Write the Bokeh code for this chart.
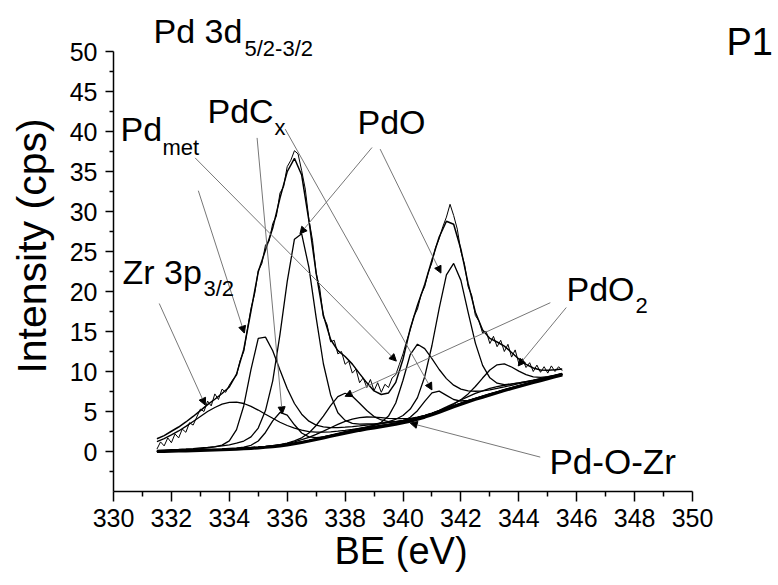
import numpy as np
from bokeh.plotting import figure
from bokeh.models import Range1d, FixedTicker, Label, Arrow, NormalHead, ColumnDataSource, Title
from bokeh.embed import file_html
from bokeh.resources import INLINE

# ---------------- data ----------------
be = [331.5, 331.75, 332.0, 332.25, 332.5, 332.75, 333.0, 333.25, 333.5, 333.75,
      334.0, 334.25, 334.5, 334.75, 335.0, 335.25, 335.5, 335.75, 336.0, 336.25,
      336.5, 336.75, 337.0, 337.25, 337.5, 337.75, 338.0, 338.25, 338.5, 338.75,
      339.0, 339.25, 339.5, 339.75, 340.0, 340.25, 340.5, 340.75, 341.0, 341.25,
      341.5, 341.75, 342.0, 342.25, 342.5, 342.75, 343.0, 343.25, 343.5, 343.75,
      344.0, 344.25, 344.5, 344.75, 345.0, 345.25, 345.5]

background = [0.00, 0.02, 0.04, 0.06, 0.08, 0.10, 0.13, 0.16, 0.19, 0.22,
              0.26, 0.30, 0.35, 0.40, 0.46, 0.53, 0.61, 0.71, 0.83, 0.97,
              1.13, 1.31, 1.50, 1.70, 1.90, 2.10, 2.30, 2.48, 2.65, 2.81,
              2.96, 3.11, 3.26, 3.42, 3.60, 3.80, 4.03, 4.30, 4.60, 4.92,
              5.25, 5.58, 5.90, 6.22, 6.52, 6.80, 7.08, 7.35, 7.62, 7.88,
              8.13, 8.38, 8.62, 8.86, 9.10, 9.34, 9.58]

# component intensities above the background
zr_3p32 = [1.24, 1.59, 2.04, 2.51, 3.06, 3.66, 4.25, 4.84, 5.31, 5.71,
           5.88, 5.86, 5.65, 5.24, 4.72, 4.13, 3.54, 2.95, 2.42, 1.95,
           1.53, 1.18, 0.93, 0.72, 0.56, 0.44, 0.35, 0.29, 0.25, 0.21,
           0.19, 0.17, 0.15, 0.14, 0.13, 0.12, 0.12, 0.11, 0.10, 0.10,
           0.09, 0.09, 0.08, 0.08, 0.07, 0.07, 0.06, 0.06, 0.06, 0.05,
           0.05, 0.05, 0.05, 0.04, 0.04, 0.04, 0.04]

pd_met_52 = [0.08, 0.09, 0.11, 0.13, 0.16, 0.18, 0.23, 0.30, 0.39, 0.58,
             1.07, 2.43, 5.37, 9.87, 13.68, 13.77, 11.98, 9.49, 7.05, 5.03,
             3.53, 2.48, 1.80, 1.38, 1.09, 0.89, 0.75, 0.64, 0.55, 0.48,
             0.43, 0.38, 0.34, 0.31, 0.28, 0.25, 0.23, 0.21, 0.19, 0.18,
             0.16, 0.15, 0.14, 0.13, 0.12, 0.12, 0.11, 0.10, 0.10, 0.09,
             0.09, 0.08, 0.08, 0.07, 0.07, 0.07, 0.06]

pdcx_52 = [0.02, 0.02, 0.03, 0.03, 0.03, 0.04, 0.05, 0.05, 0.06, 0.07,
           0.09, 0.12, 0.19, 0.38, 0.85, 1.85, 3.22, 4.17, 3.72, 2.37,
           1.18, 0.52, 0.24, 0.14, 0.10, 0.08, 0.06, 0.06, 0.05, 0.04,
           0.03, 0.03, 0.03, 0.03, 0.03, 0.02, 0.02, 0.02, 0.02, 0.02,
           0.02, 0.02, 0.02, 0.02, 0.02, 0.02, 0.02, 0.02, 0.02, 0.02,
           0.02, 0.02, 0.02, 0.02, 0.02, 0.02, 0.02]

pdo_52 = [0.14, 0.16, 0.18, 0.20, 0.23, 0.27, 0.31, 0.35, 0.41, 0.49,
          0.58, 0.74, 0.96, 1.43, 2.47, 4.59, 8.22, 13.91, 20.40, 25.57,
          26.08, 21.70, 15.24, 9.27, 5.17, 2.75, 1.59, 1.03, 0.76, 0.63,
          0.50, 0.43, 0.37, 0.32, 0.28, 0.24, 0.21, 0.18, 0.16, 0.15,
          0.13, 0.12, 0.11, 0.10, 0.09, 0.09, 0.08, 0.08, 0.07, 0.07,
          0.06, 0.06, 0.06, 0.05, 0.05, 0.05, 0.05]

pdo2_52 = [0.02, 0.02, 0.03, 0.03, 0.03, 0.03, 0.04, 0.04, 0.04, 0.05,
           0.05, 0.06, 0.07, 0.08, 0.09, 0.11, 0.13, 0.16, 0.22, 0.35,
           0.58, 1.01, 1.75, 2.72, 3.83, 4.75, 4.98, 4.42, 3.39, 2.31,
           1.40, 0.83, 0.48, 0.29, 0.20, 0.15, 0.12, 0.10, 0.09, 0.08,
           0.07, 0.07, 0.06, 0.06, 0.05, 0.05, 0.04, 0.04, 0.04, 0.03,
           0.03, 0.03, 0.03, 0.02, 0.02, 0.02, 0.02]

pd_met_32 = [0.02, 0.02, 0.02, 0.02, 0.02, 0.02, 0.02, 0.02, 0.03, 0.03,
             0.03, 0.03, 0.03, 0.04, 0.04, 0.04, 0.04, 0.05, 0.05, 0.05,
             0.06, 0.06, 0.06, 0.07, 0.08, 0.10, 0.11, 0.14, 0.18, 0.24,
             0.32, 0.54, 1.17, 2.64, 5.31, 8.32, 9.38, 8.56, 7.00, 5.33,
             3.86, 2.71, 1.90, 1.36, 1.01, 0.79, 0.63, 0.53, 0.45, 0.39,
             0.34, 0.30, 0.27, 0.24, 0.21, 0.19, 0.17]

pdcx_32 = [0.01, 0.01, 0.01, 0.01, 0.01, 0.01, 0.01, 0.01, 0.01, 0.01,
           0.01, 0.01, 0.01, 0.01, 0.01, 0.01, 0.01, 0.01, 0.01, 0.01,
           0.02, 0.02, 0.02, 0.02, 0.02, 0.02, 0.03, 0.03, 0.03, 0.04,
           0.04, 0.05, 0.08, 0.11, 0.21, 0.48, 1.07, 1.96, 2.72, 2.62,
           1.77, 0.92, 0.41, 0.18, 0.10, 0.07, 0.06, 0.05, 0.04, 0.04,
           0.03, 0.03, 0.03, 0.02, 0.02, 0.02, 0.02]

pdo_32 = [0.03, 0.03, 0.03, 0.03, 0.03, 0.03, 0.03, 0.04, 0.04, 0.04,
          0.04, 0.05, 0.05, 0.05, 0.05, 0.06, 0.06, 0.07, 0.07, 0.08,
          0.08, 0.09, 0.10, 0.12, 0.14, 0.16, 0.18, 0.20, 0.23, 0.27,
          0.32, 0.40, 0.48, 0.61, 0.90, 1.50, 2.70, 5.05, 8.65, 12.96,
          16.84, 17.93, 15.49, 11.16, 7.03, 3.96, 2.13, 1.19, 0.75, 0.54,
          0.45, 0.36, 0.30, 0.26, 0.22, 0.20, 0.17]

pdo2_32 = [0.01, 0.01, 0.01, 0.01, 0.01, 0.01, 0.01, 0.01, 0.01, 0.01,
           0.02, 0.02, 0.02, 0.02, 0.02, 0.02, 0.02, 0.02, 0.02, 0.02,
           0.02, 0.02, 0.02, 0.03, 0.03, 0.03, 0.03, 0.03, 0.03, 0.03,
           0.03, 0.04, 0.04, 0.05, 0.05, 0.06, 0.07, 0.09, 0.11, 0.14,
           0.20, 0.33, 0.58, 0.98, 1.61, 2.38, 3.10, 3.49, 3.33, 2.68,
           1.91, 1.23, 0.71, 0.40, 0.25, 0.16, 0.11]

pdozr_52 = [0.01, 0.01, 0.02, 0.02, 0.02, 0.02, 0.02, 0.02, 0.03, 0.03,
            0.03, 0.04, 0.04, 0.05, 0.06, 0.07, 0.09, 0.12, 0.17, 0.24,
            0.34, 0.46, 0.64, 0.85, 1.07, 1.28, 1.47, 1.58, 1.59, 1.50,
            1.33, 1.12, 0.89, 0.68, 0.50, 0.35, 0.26, 0.18, 0.13, 0.09,
            0.07, 0.06, 0.05, 0.05, 0.04, 0.04, 0.03, 0.03, 0.03, 0.03,
            0.02, 0.02, 0.02, 0.02, 0.02, 0.02, 0.02]

pdozr_32 = [0.01, 0.01, 0.01, 0.01, 0.01, 0.01, 0.01, 0.01, 0.01, 0.01,
            0.01, 0.01, 0.01, 0.01, 0.01, 0.01, 0.01, 0.01, 0.01, 0.01,
            0.01, 0.01, 0.01, 0.01, 0.01, 0.01, 0.02, 0.02, 0.02, 0.02,
            0.02, 0.03, 0.03, 0.04, 0.04, 0.06, 0.08, 0.12, 0.17, 0.23,
            0.32, 0.42, 0.54, 0.64, 0.74, 0.79, 0.80, 0.75, 0.66, 0.56,
            0.44, 0.34, 0.25, 0.18, 0.13, 0.09, 0.06]

# measured spectrum
be_raw = [331.5, 331.625, 331.75, 331.875, 332.0, 332.125, 332.25, 332.375,
          332.5, 332.625, 332.75, 332.875, 333.0, 333.125, 333.25, 333.375,
          333.5, 333.625, 333.75, 333.875, 334.0, 334.125, 334.25, 334.375,
          334.5, 334.625, 334.75, 334.875, 335.0, 335.125, 335.25, 335.375,
          335.5, 335.625, 335.75, 335.875, 336.0, 336.125, 336.25, 336.375,
          336.5, 336.625, 336.75, 336.875, 337.0, 337.125, 337.25, 337.375,
          337.5, 337.625, 337.75, 337.875, 338.0, 338.125, 338.25, 338.375,
          338.5, 338.625, 338.75, 338.875, 339.0, 339.125, 339.25, 339.375,
          339.5, 339.625, 339.75, 339.875, 340.0, 340.125, 340.25, 340.375,
          340.5, 340.625, 340.75, 340.875, 341.0, 341.125, 341.25, 341.375,
          341.5, 341.625, 341.75, 341.875, 342.0, 342.125, 342.25, 342.375,
          342.5, 342.625, 342.75, 342.875, 343.0, 343.125, 343.25, 343.375,
          343.5, 343.625, 343.75, 343.875, 344.0, 344.125, 344.25, 344.375,
          344.5, 344.625, 344.75, 344.875, 345.0, 345.125, 345.25, 345.375,
          345.5]
cps_raw = [0.3, 1.2, 0.7, 1.7, 1.1, 2.2, 1.7, 2.8,
           2.4, 3.6, 3.3, 4.3, 5.3, 5.0, 6.3, 5.7,
           7.2, 6.5, 7.8, 7.4, 8.3, 9.0, 9.5, 11.4,
           12.5, 15.3, 17.9, 19.7, 22.6, 23.5, 25.8, 26.3,
           28.5, 29.4, 32.3, 33.1, 35.6, 36.4, 37.6, 37.2,
           35.1, 32.8, 29.0, 26.4, 22.3, 20.4, 16.8, 15.9,
           13.7, 13.9, 12.2, 12.5, 10.9, 11.3, 9.8, 10.3,
           8.6, 9.2, 8.0, 9.0, 7.6, 8.6, 7.4, 8.4,
           8.0, 9.2, 9.6, 10.9, 12.2, 13.8, 15.2, 16.9,
           17.8, 19.6, 20.6, 22.4, 23.6, 25.5, 26.6, 28.1,
           29.3, 30.9, 29.5, 27.8, 25.0, 23.4, 20.6, 19.5,
           17.0, 16.3, 14.8, 15.0, 13.5, 14.4, 13.1, 13.9,
           12.5, 13.4, 11.8, 12.7, 11.0, 11.6, 10.5, 11.1,
           10.0, 10.8, 9.9, 10.6, 9.8, 10.7, 10.0, 10.6,
           10.1]

x_ticks = [330, 332, 334, 336, 338, 340, 342, 344, 346, 348, 350]
x_minor = [331, 333, 335, 337, 339, 341, 343, 345, 347, 349]
y_ticks = [0, 5, 10, 15, 20, 25, 30, 35, 40, 45, 50]
y_minor = [-2.5, 2.5, 7.5, 12.5, 17.5, 22.5, 27.5, 32.5, 37.5, 42.5, 47.5]

# leader lines (label -> feature), data coordinates
lead_x0 = [332.82, 332.93, 334.96, 335.93, 338.93, 339.21, 331.58, 345.09, 345.64, 344.74]
lead_y0 = [36.7, 32.6, 39.2, 40.3, 38.0, 37.8, 18.5, 18.6, 18.0, -0.7]
lead_x1 = [339.77, 334.52, 335.83, 341.0, 336.44, 341.31, 333.17, 338.0, 343.98, 340.25]
lead_y1 = [11.3, 14.8, 4.7, 7.7, 27.2, 22.3, 5.8, 6.9, 10.7, 3.55]

# ---------------- figure ----------------
FONT = "Liberation Sans"
W, H = 775, 585
LEFT, BOTTOM = 113, 94          # frame: x from 113 px, bottom at 491 px
PX_PER_EV, PX_PER_CPS = 28.95, 8.0
x_end = 330 + (W - LEFT) / PX_PER_EV
y_end = -5 + (H - BOTTOM) / PX_PER_CPS

p = figure(width=W, height=H, output_backend="svg", toolbar_location=None,
           x_range=Range1d(330, x_end), y_range=Range1d(-5, y_end),
           min_border_left=LEFT, min_border_right=0, min_border_top=0,
           min_border_bottom=BOTTOM)
p.outline_line_color = None
p.xgrid.visible = False
p.ygrid.visible = False
p.background_fill_color = "white"
p.border_fill_color = "white"

bg = np.array(background)
components = [zr_3p32, pd_met_52, pdcx_52, pdo_52, pdo2_52,
              pd_met_32, pdcx_32, pdo_32, pdo2_32, pdozr_52, pdozr_32]
envelope = bg.copy()
for comp in components:
    c = np.array(comp)
    envelope = envelope + c
    p.line(be, bg + c, line_color="black", line_width=1.3)

p.line(be_raw, cps_raw, line_color="black", line_width=1.0)
p.line(be, envelope, line_color="black", line_width=1.5)
p.line(be, background, line_color="black", line_width=3.2)

src = ColumnDataSource(dict(x0=lead_x0, y0=lead_y0, x1=lead_x1, y1=lead_y1))
p.add_layout(Arrow(end=NormalHead(size=7, fill_color="black", line_color="black", line_width=1),
                   x_start="x0", y_start="y0", x_end="x1", y_end="y1", source=src,
                   line_color="#777777", line_width=1))

for ax, ticks, minor, bounds, out_major, out_minor, standoff in (
        (p.xaxis[0], x_ticks, x_minor, (330, 350), 10, 5, 7),
        (p.yaxis[0], y_ticks, y_minor, (-5, 50), 8, 4, 8)):
    ax.ticker = FixedTicker(ticks=ticks, minor_ticks=minor)
    ax.bounds = bounds
    ax.axis_line_width = 1.5
    ax.axis_line_color = "black"
    ax.major_tick_line_width = 1.5
    ax.minor_tick_line_width = 1.5
    ax.major_tick_line_color = "black"
    ax.minor_tick_line_color = "black"
    ax.major_tick_in = 0
    ax.minor_tick_in = 0
    ax.major_tick_out = out_major
    ax.minor_tick_out = out_minor
    ax.major_label_standoff = standoff
    ax.major_label_text_font = FONT
    ax.major_label_text_font_size = "25px"
    ax.major_label_text_color = "black"
    ax.axis_label_text_font = FONT
    ax.axis_label_text_font_style = "normal"
    ax.axis_label_text_color = "black"

p.yaxis.axis_label = "Intensity (cps)"
p.yaxis.axis_label_text_font_size = "41px"
p.yaxis.axis_label_standoff = 12

# x-axis title, centred under the 330-350 axis line
p.add_layout(Title(text="BE (eV)", align="left", offset=401 - 67 - LEFT,
                   vertical_align="top", standoff=1, text_font=FONT,
                   text_font_size="38px", text_font_style="normal",
                   text_color="black"), "below")


def lab(text, px, py, size):
    """px, py: left end and baseline of the text, in pixels of the picture."""
    p.add_layout(Label(x=px - LEFT, y=(H - BOTTOM - py) + 0.35 * size,
                       x_units="screen", y_units="screen", text=text,
                       text_font=FONT, text_font_size=f"{size}px", text_color="black",
                       text_baseline="middle", text_align="left"))


lab("Pd 3d", 153, 42, 34)
lab("5/2-3/2", 244, 56, 22)
lab("P1", 726, 55, 38)
lab("Pd", 120, 140, 34)
lab("met", 162, 155, 22)
lab("PdC", 207, 122, 34)
lab("x", 274, 135, 22)
lab("PdO", 357, 133, 34)
lab("Zr 3p", 122, 283, 34)
lab("3/2", 203, 296, 22)
lab("PdO", 566, 300, 34)
lab("2", 635, 313, 22)
lab("Pd-O-Zr", 549, 473, 35)

open("out.html", "w").write(file_html(p, INLINE))
